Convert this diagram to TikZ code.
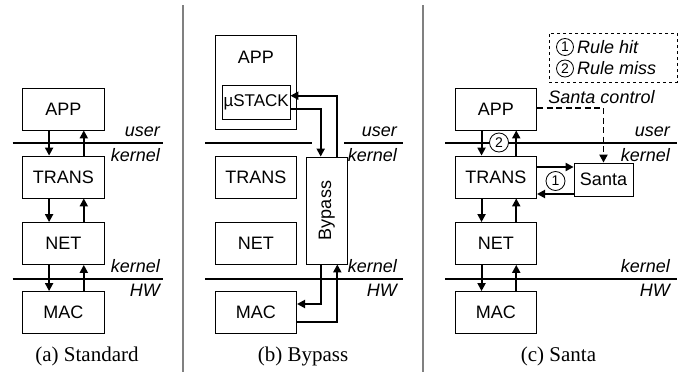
\documentclass[tikz,border=0pt]{standalone}
\usepackage{fontspec}
\setmainfont{Liberation Serif}
\setsansfont{Liberation Sans}
\usetikzlibrary{arrows.meta}

\tikzset{
  layer/.style={draw, line width=0.8pt, minimum width=81.5pt, minimum height=42pt, inner sep=0pt, font=\sffamily\fontsize{18}{20}\selectfont},
  bound/.style={line width=2.4pt},
  flow/.style={line width=1.9pt, -{Triangle[length=8pt,width=8pt]}},
  tag/.style={inner sep=0pt, font=\sffamily\itshape\fontsize{18}{20}\selectfont},
  caption/.style={inner sep=0pt, font=\fontsize{21}{24}\selectfont},
  num/.style={circle, draw, line width=0.8pt, fill=white, inner sep=0pt, minimum size=19pt, font=\sffamily\fontsize{14}{14}\selectfont},
  sep/.style={gray, line width=1.5pt}
}

\begin{document}
\begin{tikzpicture}[x=1pt,y=-1pt]
    \useasboundingbox (0,0) rectangle (691,372);
    \draw[sep] (183,5) -- (183,372);
    \draw[sep] (423,5) -- (423,372);

    % (a) standard
    \draw[bound] (12.7,143) -- (163,143);
    \draw[bound] (12.7,279) -- (163,279);
    \node[layer] (appA) at (63.4,109) {APP};
    \node[layer] (transA) at (63.4,177) {TRANS};
    \node[layer] (netA) at (63.4,243.5) {NET};
    \node[layer] (macA) at (63.4,312.5) {MAC};
    \foreach \hi/\lo in {appA/transA,transA/netA,netA/macA} {
      \draw[flow] ([xshift=-14.3pt]\hi.south) -- ([xshift=-14.3pt]\lo.north);
      \draw[flow] ([xshift=20.4pt]\lo.north) -- ([xshift=20.4pt]\hi.south);
    }
    \node[tag, anchor=base east] (userA) at (160,136) {user};
    \node[tag, anchor=base east] (kernA) at (160,161) {kernel};
    \node[tag, anchor=base east] (kernA2) at (160,272.5) {kernel};
    \node[tag, anchor=base east] (hwA) at (160,296.5) {HW};
    \node[caption, anchor=base] (capA) at (87,361) {(a) Standard};

    % (b) bypass
    \draw[bound] (205,143) -- (311.7,143);
    \draw[bound] (344,143) -- (403,143);
    \draw[bound] (205,279) -- (403,279);
    \node[layer, minimum height=94pt, anchor=north] (appB) at (255.85,35) {};
    \node[layer, draw=none] (appBname) at (255.85,57) {APP};
    \node[layer, minimum width=67.7pt, minimum height=33.3pt, font=\sffamily\fontsize{17}{19}\selectfont] (stack) at (256.15,102.35) {µSTACK};
    \node[layer] (transB) at (255.85,177) {TRANS};
    \node[layer] (netB) at (255.85,243.5) {NET};
    \node[layer] (macB) at (255.85,312.5) {MAC};
    \node[layer, minimum width=107pt, minimum height=40.3pt, rotate=90] (byp) at (326.85,210.5) {Bypass};
    \draw[flow] ([yshift=-7pt]stack.east) -| ([xshift=-6.15pt]byp.east);
    \draw[flow] ([xshift=9.85pt]byp.east) |- ([yshift=6.65pt]stack.east);
    \draw[flow] ([xshift=-6.15pt]byp.west) |- ([yshift=8.5pt]macB.east);
    \draw[flow] ([yshift=-9.2pt]macB.east) -| ([xshift=10.45pt]byp.west);
    \node[tag, anchor=base east] (userB) at (397,136) {user};
    \node[tag, anchor=base east] (kernB) at (397,161) {kernel};
    \node[tag, anchor=base east] (kernB2) at (397,272.5) {kernel};
    \node[tag, anchor=base east] (hwB) at (397,296.5) {HW};
    \node[caption, anchor=base] (capB) at (303,361) {(b) Bypass};

    % (c) santa
    \draw[bound] (445,143) -- (677,143);
    \draw[bound] (445,279) -- (677,279);
    \node[layer] (appC) at (495.85,109) {APP};
    \node[layer] (transC) at (495.85,177) {TRANS};
    \node[layer] (netC) at (495.85,243.5) {NET};
    \node[layer] (macC) at (495.85,312.5) {MAC};
    \foreach \hi/\lo in {appC/transC,transC/netC,netC/macC} {
      \draw[flow] ([xshift=-14.3pt]\hi.south) -- ([xshift=-14.3pt]\lo.north);
      \draw[flow] ([xshift=20.4pt]\lo.north) -- ([xshift=20.4pt]\hi.south);
    }
    \node[layer, minimum width=59pt, minimum height=33pt] (santa) at (603.5,179.5) {Santa};
    \coordinate (hitOut) at ([yshift=10pt]transC.east);
    \coordinate (hitIn) at ([yshift=-17pt]transC.east);
    \draw[flow] (hitOut) -- (hitOut -| santa.west);
    \draw[flow] (hitIn -| santa.west) -- (hitIn);
    \draw[flow, dash pattern=on 6pt off 3.5pt] ([yshift=1pt]appC.east) -| (santa.north);
    \node[num] (hit) at (555.5,181) {1};
    \node[num] (miss) at (499,142.5) {2};
    \node[tag] (ctrl) at (601.5,97) {Santa control};
    \node[tag, anchor=base east] (userC) at (670,136) {user};
    \node[tag, anchor=base east] (kernC) at (670,161) {kernel};
    \node[tag, anchor=base east] (kernC2) at (670,272.5) {kernel};
    \node[tag, anchor=base east] (hwC) at (670,296.5) {HW};
    \node[caption, anchor=base] (capC) at (558.5,361) {(c) Santa};

    % legend
    \node[draw, dashed, line width=0.7pt, minimum width=128pt, minimum height=49pt] (legend) at (613,57.5) {};
    \node[num, minimum size=17pt] (keyHit) at (565,47) {1};
    \node[num, minimum size=17pt] (keyMiss) at (565,68.5) {2};
    \node[tag, anchor=west] (txtHit) at ([xshift=3pt]keyHit.east) {Rule hit};
    \node[tag, anchor=west] (txtMiss) at ([xshift=3pt]keyMiss.east) {Rule miss};
\end{tikzpicture}
\end{document}
